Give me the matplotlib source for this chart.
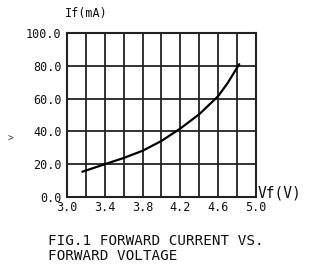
import matplotlib
matplotlib.use("Agg")
import matplotlib.pyplot as plt
import numpy as np

vf = [3.162, 3.4, 3.6, 3.8, 4.0, 4.2, 4.4, 4.6, 4.7, 4.823]
if_ma = [15.4, 20.0, 23.8, 28.2, 34.2, 41.8, 50.5, 61.5, 69.5, 81.0]
xticks = [3.0, 3.4, 3.8, 4.2, 4.6, 5.0]
xticklabels = ["3.0", "3.4", "3.8", "4.2", "4.6", "5.0"]
yticks = [0, 20, 40, 60, 80, 100]
yticklabels = ["0.0", "20.0", "40.0", "60.0", "80.0", "100.0"]

MONO = "DejaVu Sans Mono"
W, H = 310, 271
fig = plt.figure(figsize=(W/100, H/100), dpi=100)
ax = fig.add_axes([67/W, 1-197/H, (256-67)/W, (197-33)/H])
ax.plot(vf, if_ma, color="black", lw=1.6, solid_capstyle="round", solid_joinstyle="round")
ax.set_xlim(3.0, 5.0)
ax.set_ylim(0, 100)
ax.set_xticks(xticks)
ax.set_xticklabels(xticklabels, family=MONO, fontsize=8.5)
ax.set_xticks(np.arange(3.0, 5.01, 0.2), minor=True)
ax.set_yticks(yticks)
ax.set_yticklabels(yticklabels, family=MONO, fontsize=8.5)
ax.grid(True, which="both", color="#222222", lw=1.3)
ax.tick_params(which="both", length=0, colors="#111111")
ax.tick_params(axis="y", pad=4)
ax.tick_params(axis="x", pad=3)
for s in ax.spines.values():
    s.set_linewidth(1.5)
    s.set_color("#222222")
fig.text(65/W, 1-14/H, "If(mA)", fontsize=8.5, family=MONO, ha="left", va="center", color="#111111")
fig.text(258/W, 1-193/H, "Vf(V)", fontsize=10.5, family=MONO, ha="left", va="center", color="#111111")
fig.text(48/W, 1-241/H, "FIG.1 FORWARD CURRENT VS.", fontsize=10.3, family=MONO, ha="left", va="center", color="#111111")
fig.text(48/W, 1-256/H, "FORWARD VOLTAGE", fontsize=10.3, family=MONO, ha="left", va="center", color="#111111")
fig.text(8/W, 1-139/H, ">", fontsize=7, family=MONO, ha="left", va="center", color="#444444")
fig.savefig("out.png", dpi=100)
